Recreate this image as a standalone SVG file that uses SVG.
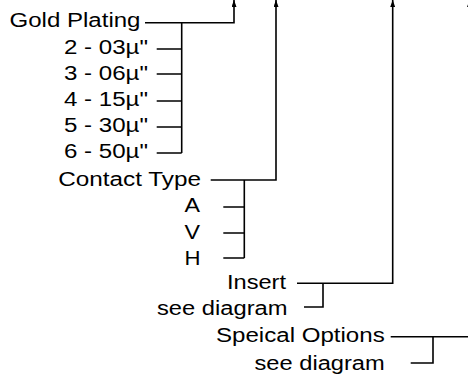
<svg xmlns="http://www.w3.org/2000/svg" width="468" height="376" viewBox="0 0 468 376">
  <style>
    text { font-family: "Liberation Sans", Arial, sans-serif; font-size: 20px; fill: #000; }
    .ln { fill: none; stroke: #000; stroke-width: 1.6; }
  </style>
  <defs>
    <marker id="ah" viewBox="0 0 7 5" refX="7" refY="2.5" markerWidth="7" markerHeight="5" markerUnits="userSpaceOnUse" orient="auto">
      <path d="M0,0 L7,2.5 L0,5 z" fill="#000"/>
    </marker>
  </defs>
  <rect width="468" height="376" fill="#fff"/>

  <g id="gold-plating">
    <text x="9.5" y="26.5" textLength="131" lengthAdjust="spacingAndGlyphs">Gold Plating</text>
    <text x="64" y="54" textLength="84" lengthAdjust="spacingAndGlyphs">2 - 03µ"</text>
    <text x="64" y="79.5" textLength="84" lengthAdjust="spacingAndGlyphs">3 - 06µ"</text>
    <text x="64" y="106" textLength="84" lengthAdjust="spacingAndGlyphs">4 - 15µ"</text>
    <text x="64" y="132" textLength="84" lengthAdjust="spacingAndGlyphs">5 - 30µ"</text>
    <text x="64" y="158" textLength="84" lengthAdjust="spacingAndGlyphs">6 - 50µ"</text>
  </g>
  <g id="contact-type">
    <text x="58.3" y="186" textLength="142.7" lengthAdjust="spacingAndGlyphs">Contact Type</text>
    <text x="184.5" y="212" textLength="15.5" lengthAdjust="spacingAndGlyphs">A</text>
    <text x="184.5" y="238.5" textLength="15.5" lengthAdjust="spacingAndGlyphs">V</text>
    <text x="184.5" y="264.5" textLength="16" lengthAdjust="spacingAndGlyphs">H</text>
  </g>
  <g id="insert">
    <text x="227" y="288.5" textLength="59" lengthAdjust="spacingAndGlyphs">Insert</text>
    <text x="157" y="315" textLength="130.5" lengthAdjust="spacingAndGlyphs">see diagram</text>
  </g>
  <g id="special-options">
    <text x="216" y="342" textLength="168.7" lengthAdjust="spacingAndGlyphs">Speical Options</text>
    <text x="254.5" y="369.5" textLength="130.2" lengthAdjust="spacingAndGlyphs">see diagram</text>
  </g>

  <g id="connectors">
    <!-- Gold Plating -->
    <path class="ln" d="M145,22.7 H234 V0" marker-end="url(#ah)"/>
    <path class="ln" d="M181.7,22.7 V153"/>
    <path class="ln" d="M156.7,49 H181.7 M156.7,74 H181.7 M156.7,101 H181.7 M156.7,127 H181.7 M156.7,153 H181.7"/>
    <!-- Contact Type -->
    <path class="ln" d="M210.7,180 H276 V0" marker-end="url(#ah)"/>
    <path class="ln" d="M244.3,180 V258"/>
    <path class="ln" d="M223.3,207 H244.3 M223.3,233 H244.3 M223.3,258 H244.3"/>
    <!-- Insert -->
    <path class="ln" d="M297,283.3 H392.7 V0" marker-end="url(#ah)"/>
    <path class="ln" d="M323,283.3 V307 H304"/>
    <!-- Special Options -->
    <path class="ln" d="M390.7,336.7 H469.5 V0" marker-end="url(#ah)"/>
    <path class="ln" d="M433,336.7 V363 H410.7"/>
  </g>
</svg>
